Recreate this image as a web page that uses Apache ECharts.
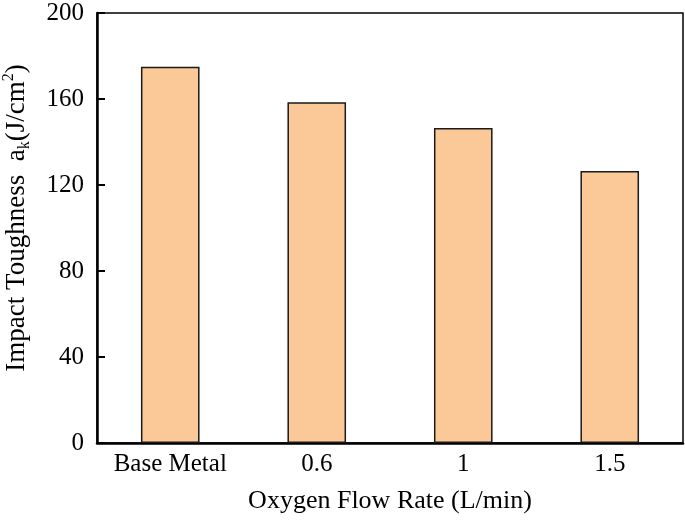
<!DOCTYPE html>
<html><head><meta charset="utf-8">
<script src="https://cdn.jsdelivr.net/npm/echarts@6/dist/echarts.min.js"></script>
<style>html,body{margin:0;padding:0;background:#fff}#c{width:685px;height:520px}</style>
</head><body><div id="c"></div>
<script>
const categories = ['Base Metal', '0.6', '1', '1.5'];
const toughness = [175, 158.5, 146.5, 126.5];
const yTicks = {min: 0, max: 200, interval: 40};

const font = '"Liberation Serif", "Times New Roman", serif';
const chart = echarts.init(document.getElementById('c'));
chart.setOption({
  animation: false,
  grid: {left: 97, right: 2, top: 13, bottom: 77, show: true, borderColor: '#000', borderWidth: 1.5,
         containLabel: false, outerBoundsMode: 'none'},
  xAxis: {
    type: 'category', data: categories,
    name: 'Oxygen Flow Rate (L/min)', nameLocation: 'middle', nameGap: 45,
    nameTextStyle: {fontFamily: font, fontSize: 26, color: '#000'},
    axisLine: {lineStyle: {color: '#000', width: 2.5}},
    axisTick: {show: false},
    axisLabel: {fontFamily: font, fontSize: 25, color: '#000', margin: 9, interval: 0, hideOverlap: false}
  },
  yAxis: {
    type: 'value', min: yTicks.min, max: yTicks.max, interval: yTicks.interval,
    name: 'Impact Toughness  a{sub|k}(J/cm{sup|2})', nameLocation: 'middle', nameGap: 64,
    nameTextStyle: {fontFamily: font, fontSize: 27, color: '#000', padding: [0, 0, 0, 20],
      rich: {
        sub: {fontFamily: font, fontSize: 16, color: '#000', verticalAlign: 'bottom', lineHeight: 32},
        sup: {fontFamily: font, fontSize: 16, color: '#000', verticalAlign: 'top', lineHeight: 32}
      }},
    axisLine: {show: true, lineStyle: {color: '#000', width: 2.5}},
    axisTick: {show: true, inside: true, length: 8, lineStyle: {color: '#000', width: 2}},
    splitLine: {show: false},
    axisLabel: {fontFamily: font, fontSize: 25, color: '#000', margin: 13}
  },
  series: [{
    type: 'bar', data: toughness, barWidth: '40%',
    itemStyle: {color: '#FBC897', borderColor: '#1a1a1a', borderWidth: 1.5}
  }]
});
</script></body></html>
